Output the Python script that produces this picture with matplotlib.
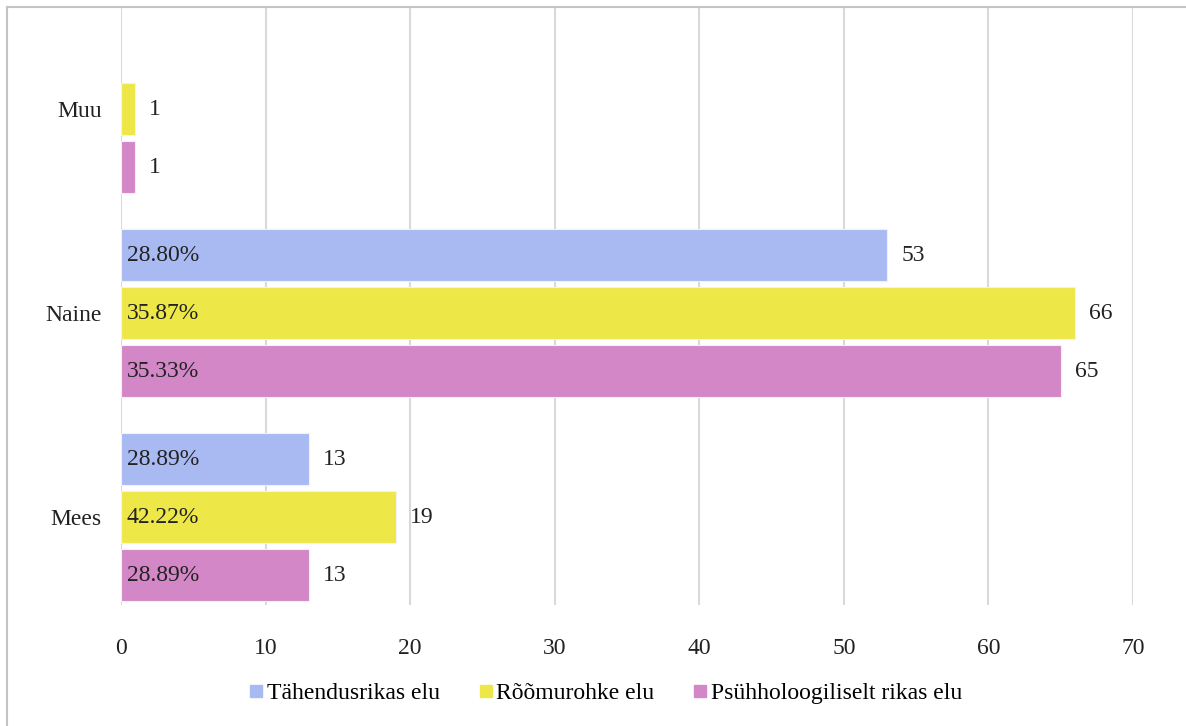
import numpy as np
import matplotlib.pyplot as plt
from matplotlib.lines import Line2D

plt.rcParams['font.family'] = ['Liberation Serif', 'DejaVu Serif']

categories = ['Mees', 'Naine', 'Muu']
series_names = ['Tähendusrikas elu', 'Rõõmurohke elu', 'Psühholoogiliselt rikas elu']
colors = ['#a9baf2', '#ede848', '#d387c7']

# counts per category (Mees, Naine, Muu); None = no bar
tahendus = [13, 53, None]
roomu = [19, 66, 1]
psuhh = [13, 65, 1]

# percent labels shown inside bars
tahendus_pct = ['28.89%', '28.80%', None]
roomu_pct = ['42.22%', '35.87%', None]
psuhh_pct = ['28.89%', '35.33%', None]

values = [tahendus, roomu, psuhh]
pcts = [tahendus_pct, roomu_pct, psuhh_pct]

fs = 17

fig = plt.figure(figsize=(11.86, 7.26), dpi=100)
ax = fig.add_axes([121 / 1186, 1 - 605 / 726, (1133 - 121) / 1186, (605 - 7) / 726])

step = 0.284
height = 0.255
offsets = [step, 0, -step]
y = np.arange(len(categories))

for vals, labels, off, col, name in zip(values, pcts, offsets, colors, series_names):
    idx = [i for i, v in enumerate(vals) if v is not None]
    v = [vals[i] for i in idx]
    pos = y[idx] + off
    ax.barh(pos, v, height=height, color=col, edgecolor='#f4f0f6', linewidth=0.8,
            label=name, zorder=2)
    for p, val, i in zip(pos, v, idx):
        ax.annotate(str(val), (val, p), xytext=(10, 0), textcoords='offset points',
                    va='center', ha='left', fontsize=fs, color='#222222')
        if labels[i] is not None:
            ax.annotate(labels[i], (0, p), xytext=(4, 0), textcoords='offset points',
                        va='center', ha='left', fontsize=fs, color='#222222')

ax.set_xlim(0, 70)
ax.set_ylim(-0.43, 2.5)
ax.set_xticks(np.arange(0, 71, 10))
ax.set_yticks(y)
ax.set_yticklabels(categories)
ax.tick_params(axis='both', length=0, labelsize=fs, colors='#222222')
ax.tick_params(axis='y', pad=14)
ax.tick_params(axis='x', pad=24)
ax.grid(axis='x', color='#d9d9d9', linewidth=1.5, zorder=0)
ax.set_axisbelow(True)
for s in ax.spines.values():
    s.set_visible(False)

handles = [Line2D([], [], marker='s', linestyle='none', markersize=8,
                  markerfacecolor=c, markeredgecolor=c) for c in colors]
fig.legend(handles, series_names, loc='center', bbox_to_anchor=(605 / 1186, 1 - 693 / 726),
           ncol=3, frameon=False, fontsize=fs, handletextpad=0.1, columnspacing=1.6,
           handlelength=0.7)

# outer chart border
fig.add_artist(Line2D([7 / 1186, 1.0], [1 - 7 / 726, 1 - 7 / 726], transform=fig.transFigure,
                      color='#c4c4c4', linewidth=1.5))
fig.add_artist(Line2D([7 / 1186, 7 / 1186], [0, 1 - 7 / 726], transform=fig.transFigure,
                      color='#c4c4c4', linewidth=1.5))

fig.savefig('out.png', dpi=100)
